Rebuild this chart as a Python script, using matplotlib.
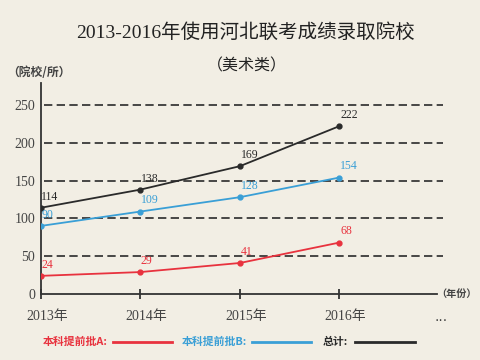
import matplotlib
matplotlib.use('Agg')
import matplotlib.pyplot as plt
from matplotlib.lines import Line2D
from matplotlib.transforms import ScaledTranslation

# data
years = ['2013年', '2014年', '2015年', '2016年']
batch_a = [24, 29, 41, 68]
batch_b = [90, 109, 128, 154]
total = [114, 138, 169, 222]
yticks = [0, 50, 100, 150, 200, 250]

BG = '#f2eee4'
RED = '#e8323e'
BLUE = '#3a9fd6'
BLACK = '#2a2a2a'
MIX = ['Liberation Serif', 'Noto Sans CJK SC']
CJK = ['Noto Sans CJK SC', 'DejaVu Sans']

fig = plt.figure(figsize=(4.81, 3.6), dpi=100, facecolor=BG)
W, H = 481, 360
ax = fig.add_axes([40.7 / W, 66 / H, (443 - 40.7) / W, 211 / H])
ax.set_facecolor(BG)
ax.set_xlim(0, 4.04)
ax.set_ylim(0, 279)

x = list(range(len(years)))
# grid
for v in yticks[1:]:
    ax.plot([0.03, 4.04], [v, v], color=BLACK, lw=1.2, ls=(0, (5, 2.6)), zorder=1)

series = [(batch_a, RED), (batch_b, BLUE), (total, BLACK)]
for vals, c in series:
    ax.plot(x, vals, color=c, lw=1.3, marker='o', ms=3.5, zorder=3)
    for xi, v in zip(x, vals):
        ax.annotate(str(v), (xi, v), xytext=(0.5, 8), textcoords='offset points',
                    ha='left', va='center', fontsize=8.5, color=c,
                    family=MIX, zorder=4)

for s in ['top', 'right']:
    ax.spines[s].set_visible(False)
ax.spines['left'].set_color('#333333')
ax.spines['bottom'].set_color('#333333')
ax.spines['left'].set_linewidth(1.3)
ax.spines['bottom'].set_linewidth(1.3)
ax.spines['bottom'].set_bounds(0, 3.98)

ax.set_yticks(yticks)
ax.set_yticklabels([str(v) for v in yticks], family=MIX, fontsize=10, color='#444444')
ax.tick_params(axis='y', length=0, pad=4)
ax.set_xticks(x)
ax.set_xticklabels(years, family=MIX, fontsize=10, color='#444444')
ax.tick_params(axis='x', direction='inout', length=7, width=1.3, color='#333333', pad=8)
for lab in ax.get_xticklabels():
    lab.set_transform(lab.get_transform() + ScaledTranslation(6 / 100, 0, fig.dpi_scale_trans))

ax.annotate('...', (4.02, 0), xycoords=('data', 'axes fraction'), xytext=(0, -23),
            textcoords='offset pixels', ha='center', va='center', fontsize=10, color='#444444')
ax.annotate('（年份）', (1, 0), xycoords='axes fraction', xytext=(-7, 0),
            textcoords='offset pixels', ha='left', va='center', fontsize=7.3,
            color='#444444', family=CJK, fontweight='bold')

fig.text(7 / W, 1 - 73 / H, '（院校/所）', ha='left', va='center', fontsize=8.5,
         color='#444444', family=CJK, fontweight='bold')
fig.text(245 / W, 1 - 33 / H, '2013-2016年使用河北联考成绩录取院校', ha='center', va='center',
         fontsize=14, color='#222222', family=MIX)
fig.text(247 / W, 1 - 66 / H, '（美术类）', ha='center', va='center',
         fontsize=11.5, color='#222222', family=CJK)

# legend
ly = 1 - 342 / H
legend = [('本科提前批A:', RED, 43, 113, 172), ('本科提前批B:', BLUE, 182, 252, 311),
          ('总计:', BLACK, 323, 355, 415)]
for txt, c, tx, x0, x1 in legend:
    fig.text(tx / W, ly, txt, ha='left', va='center', fontsize=7.8, color=c,
             family=CJK, fontweight='bold')
    fig.add_artist(Line2D([x0 / W, x1 / W], [ly, ly], color=c, lw=2, transform=fig.transFigure))

fig.savefig('out.png', dpi=100, facecolor=BG)
